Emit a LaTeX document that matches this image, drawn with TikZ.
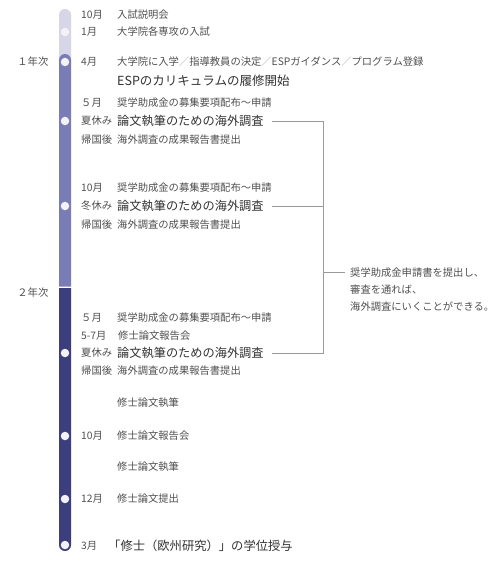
\documentclass[tikz,border=0pt]{standalone}
\usepackage{fontspec}
\setmainfont{Noto Sans CJK JP}
\definecolor{barA}{HTML}{D6D6E6}
\definecolor{barB}{HTML}{7A7CB6}
\definecolor{barC}{HTML}{3C3E7E}
\definecolor{dotc}{HTML}{F2F2F7}
\definecolor{txtc}{HTML}{505050}
\definecolor{bigc}{HTML}{333333}
\definecolor{slashc}{HTML}{AAAAAA}
\definecolor{linec}{HTML}{9A9A9A}
\tikzset{
  lbl/.style={anchor=west, inner sep=0pt, font=\fontsize{10.3}{12}\selectfont, text=txtc},
  bigt/.style={anchor=west, inner sep=0pt, font=\fontsize{12.2}{14}\selectfont, text=bigc},
  dot/.style={circle, fill=dotc, inner sep=0pt, minimum size=8.5pt},
  bline/.style={draw=linec, line width=0.8pt},
}
\begin{document}
\begin{tikzpicture}[x=1pt,y=-1pt]
\useasboundingbox[fill=white] (0,0) rectangle (500,580);
% timeline bar
\fill[barA, rounded corners=6pt] (59,9) rectangle (71,70);
\fill[barB] (59,286.5) {[rounded corners=6pt] -- (59,54) -- (71,54)} -- (71,286.5) -- cycle;
\fill[barC] (59,288) -- (71,288) {[rounded corners=6pt] -- (71,551) -- (59,551)} -- cycle;
% dots
\node[dot] (d1) at (65,32) {};
\node[dot] (d2) at (65,62) {};
\node[dot] (d3) at (65,121) {};
\node[dot] (d4) at (65,206) {};
\node[dot] (d5) at (65,353) {};
\node[dot] (d6) at (65,436) {};
\node[dot] (d7) at (65,499) {};
\node[dot] (d8) at (65,545) {};
% year labels
\node[lbl, anchor=east] (y1) at (48.5,62) {１年次};
\node[lbl, anchor=east] (y2) at (48.5,293) {２年次};
% entries
\node[lbl] (m1) at (81,15) {10月};
\node[lbl] (t1) at (117,15) {入試説明会};
\node[lbl] (m2) at (81,32) {1月};
\node[lbl] (t2) at (117,32) {大学院各専攻の入試};
\node[lbl] (m3) at (81,62) {4月};
\node[lbl] (t3) at (117,62) {大学院に入学{\color{slashc}／}指導教員の決定{\color{slashc}／}ESPガイダンス{\color{slashc}／}プログラム登録};
\node[bigt, font=\fontsize{12.5}{14}\selectfont] (b0) at (117,81) {ESPのカリキュラムの履修開始};
\node[lbl] (m4) at (81,103) {５月};
\node[lbl] (t4) at (117,103) {奨学助成金の募集要項配布～申請};
\node[lbl] (m5) at (81,121) {夏休み};
\node[bigt] (b1) at (117,121) {論文執筆のための海外調査};
\node[lbl] (m6) at (81,140) {帰国後};
\node[lbl] (t6) at (117,140) {海外調査の成果報告書提出};
\node[lbl] (m7) at (81,188) {10月};
\node[lbl] (t7) at (117,188) {奨学助成金の募集要項配布～申請};
\node[lbl] (m8) at (81,206) {冬休み};
\node[bigt] (b2) at (117,206) {論文執筆のための海外調査};
\node[lbl] (m9) at (81,225) {帰国後};
\node[lbl] (t9) at (117,225) {海外調査の成果報告書提出};
\node[lbl] (m10) at (81,318) {５月};
\node[lbl] (t10) at (117,318) {奨学助成金の募集要項配布～申請};
\node[lbl] (m11) at (81,336) {5-7月};
\node[lbl] (t11) at (118,336) {修士論文報告会};
\node[lbl] (m12) at (81,353) {夏休み};
\node[bigt] (b3) at (117,353) {論文執筆のための海外調査};
\node[lbl] (m13) at (81,371) {帰国後};
\node[lbl] (t13) at (117,371) {海外調査の成果報告書提出};
\node[lbl] (t14) at (117,403) {修士論文執筆};
\node[lbl] (m15) at (81,436) {10月};
\node[lbl] (t15) at (117,436) {修士論文報告会};
\node[lbl] (t16) at (117,467) {修士論文執筆};
\node[lbl] (m17) at (81,499) {12月};
\node[lbl] (t17) at (117,499) {修士論文提出};
\node[lbl] (m18) at (81,546) {3月};
\node[bigt, font=\fontsize{12.3}{14}\selectfont] (b4) at (108,546) {「修士（欧州研究）」の学位授与};
% note
\node[lbl, align=left, font=\fontsize{10.3}{17}\selectfont] (note) at (350,290) {奨学助成金申請書を提出し、\\審査を通れば、\\海外調査にいくことができる。};
% bracket
\coordinate (jn) at (323,272);
\draw[bline] ([xshift=8pt]b1.east) -| (jn);
\draw[bline] ([xshift=8pt]b2.east) -| (jn);
\draw[bline] ([xshift=8pt]b3.east) -| (jn);
\draw[bline] (jn) -- ([xshift=-5pt]jn -| note.west);
\end{tikzpicture}
\end{document}
